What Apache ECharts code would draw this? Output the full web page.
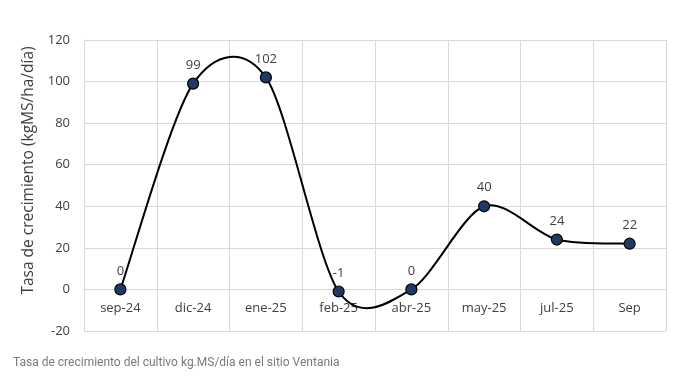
<!DOCTYPE html>
<html><head><meta charset="utf-8">
<script src="https://cdn.jsdelivr.net/npm/echarts@6/dist/echarts.min.js"></script>
<style>html,body{margin:0;padding:0;background:#fff;}#c{width:678px;height:382px;}</style>
</head><body><div id="c"></div>
<script>
var categories = ['sep-24','dic-24','ene-25','feb-25','abr-25','may-25','jul-25','Sep'];
var values = [0, 99, 102, -1, 0, 40, 24, 22];
var yTicks = {min: -20, max: 120, interval: 20};
var yTitle = 'Tasa de crecimiento (kgMS/ha/día)';
var caption = 'Tasa de crecimiento del cultivo kg.MS/día en el sitio Ventania';

var chart = echarts.init(document.getElementById('c'), null, {renderer: 'canvas'});
var font = 'Open Sans';
var gridTop = 40, gridBottom = 51, H = 382;
// distance from bottom of grid to zero line (axis crosses at 0)
var plotH = H - gridTop - gridBottom;
var zeroOffset = plotH * (0 - yTicks.min) / (yTicks.max - yTicks.min);

function renderSegment(params, api) {
  var i = params.dataIndex;
  var n = values.length;
  if (i >= n - 1) return null;
  function P(k) { k = Math.max(0, Math.min(n - 1, k)); return api.coord([k, values[k]]); }
  var p0 = P(i - 1), p1 = P(i), p2 = P(i + 1), p3 = P(i + 2);
  var t = 0.15;
  return {
    type: 'bezierCurve',
    shape: {
      x1: p1[0], y1: p1[1], x2: p2[0], y2: p2[1],
      cpx1: p1[0] + (p2[0] - p0[0]) * t, cpy1: p1[1] + (p2[1] - p0[1]) * t,
      cpx2: p2[0] - (p3[0] - p1[0]) * t, cpy2: p2[1] - (p3[1] - p1[1]) * t
    },
    style: {stroke: '#000', lineWidth: 2, fill: null}
  };
}

chart.setOption({
  animation: false,
  backgroundColor: '#fff',
  grid: {left: 84, right: 12, top: gridTop, bottom: gridBottom},
  title: {text: caption, left: 8, top: 352, textStyle: {fontFamily: 'Roboto', fontSize: 12, fontWeight: 'normal', color: '#7a7a7a'}},
  xAxis: [{
    type: 'category', data: categories, boundaryGap: true,
    axisLine: {show: false},
    axisTick: {show: false},
    axisLabel: {show: false},
    splitLine: {show: true, lineStyle: {color: '#d9d9d9', width: 1}}
  }, {
    type: 'category', data: categories, boundaryGap: true, position: 'bottom',
    offset: -zeroOffset,
    axisLine: {show: true, onZero: false, lineStyle: {color: '#d9d9d9', width: 1}},
    axisTick: {show: false},
    axisLabel: {color: '#404040', fontFamily: font, fontSize: 13, margin: 12},
    splitLine: {show: false}
  }],
  yAxis: {
    type: 'value', min: yTicks.min, max: yTicks.max, interval: yTicks.interval,
    name: yTitle, nameLocation: 'middle', nameGap: 35, nameRotate: 90,
    nameTextStyle: {color: '#404040', fontFamily: font, fontSize: 15.5, padding: [0, 0, 0, 30]},
    axisLine: {show: true, lineStyle: {color: '#d9d9d9'}},
    axisTick: {show: false},
    axisLabel: {color: '#404040', fontFamily: font, fontSize: 13, margin: 14},
    splitLine: {show: true, lineStyle: {color: '#d9d9d9', width: 1}}
  },
  series: [{
    type: 'custom', xAxisIndex: 0, data: values.map(function (v, i) { return [i, v]; }),
    renderItem: renderSegment, z: 2, silent: true
  }, {
    type: 'scatter', xAxisIndex: 0, data: values.map(function (v, i) { return [i, v]; }),
    symbol: 'circle', symbolSize: 11, z: 3,
    itemStyle: {color: '#203864', borderColor: '#000', borderWidth: 1.2, opacity: 1},
    label: {show: true, position: 'top', distance: 6, color: '#404040', fontFamily: font, fontSize: 13,
      formatter: function (p) { return p.value[1]; }}
  }]
});
</script></body></html>
